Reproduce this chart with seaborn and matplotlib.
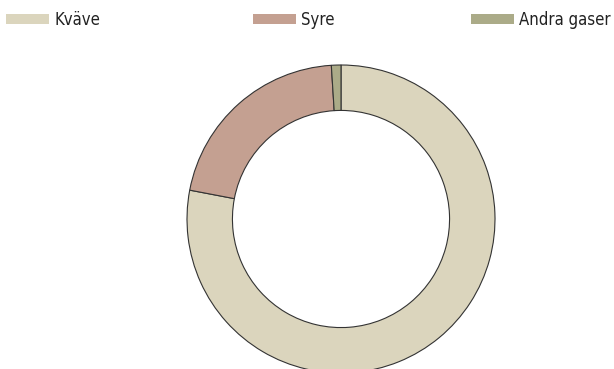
import matplotlib
matplotlib.use("Agg")
import matplotlib.pyplot as plt
import seaborn as sns
from matplotlib.patches import Patch

# Composition of air (percent by volume)
gases = ["Kväve", "Syre", "Andra gaser"]
shares = [78, 21, 1]
colors = ["#DBD5BD", "#C4A091", "#ABAB88"]

sns.set_theme(style="white")
plt.rcParams["font.family"] = ["DejaVu Sans"]
plt.rcParams["font.stretch"] = "condensed"

W, H, DPI = 614, 369, 100
fig = plt.figure(figsize=(W / DPI, H / DPI), dpi=DPI)

# Donut: centre and outer radius in pixels
cx, cy, r = 341, 219, 154
ax = fig.add_axes([(cx - r) / W, (H - cy - r) / H, 2 * r / W, 2 * r / H])
ax.pie(
    shares,
    colors=colors,
    startangle=90,
    counterclock=False,
    radius=1.0,
    wedgeprops=dict(width=0.295, edgecolor="#333333", linewidth=0.8),
)
ax.set_xlim(-1, 1)
ax.set_ylim(-1, 1)
ax.axis("off")

# Legend entries spread across the top
legend_x = [6, 253, 471]
for name, col, x in zip(gases, colors, legend_x):
    fig.legend(
        handles=[Patch(facecolor=col, edgecolor="none", label=name)],
        loc="center left",
        bbox_to_anchor=(x / W, 1 - 20 / H),
        frameon=False,
        prop=dict(family="DejaVu Sans", stretch="condensed", size=12),
        handlelength=2.6,
        handleheight=0.5,
        handletextpad=0.3,
        borderpad=0,
        borderaxespad=0,
        labelcolor="#222222",
    )

fig.savefig("out.png", dpi=DPI)
